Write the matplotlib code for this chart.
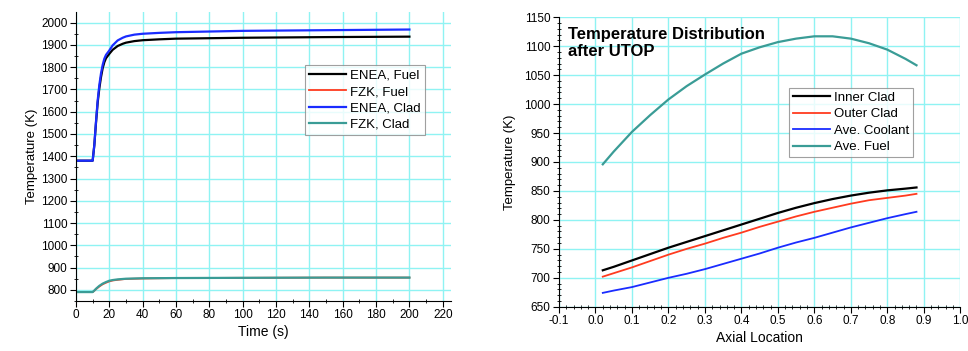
import matplotlib
matplotlib.use("Agg")
import matplotlib.pyplot as plt
from matplotlib.ticker import MultipleLocator

plt.rcParams['font.family'] = ['Liberation Sans', 'DejaVu Sans']

# ---- Left chart data ----
time_s = [0, 10, 11, 12, 13, 14, 15, 16, 17, 18, 19, 20, 22, 25, 28, 30, 35, 40, 50, 60, 80, 100, 150, 200]
enea_fuel = [1380, 1380, 1450, 1550, 1640, 1705, 1755, 1795, 1822, 1840, 1850, 1860, 1878, 1895, 1905, 1910, 1917, 1921, 1925, 1928, 1930, 1932, 1935, 1937]
enea_clad = [1380, 1380, 1450, 1555, 1650, 1720, 1772, 1810, 1838, 1855, 1865, 1875, 1898, 1920, 1932, 1938, 1946, 1950, 1954, 1957, 1960, 1963, 1966, 1969]
fzk_time = [0, 10, 11, 12, 14, 16, 18, 20, 22, 25, 30, 40, 60, 100, 150, 200]
fzk_fuel = [790, 790, 796, 803, 815, 825, 832, 838, 842, 845, 849, 851, 853, 854, 855, 855]
fzk_clad = [790, 790, 797, 805, 818, 828, 835, 841, 844, 847, 850, 852, 853, 854, 855, 855]

# ---- Right chart data ----
axial = [0.02, 0.05, 0.1, 0.15, 0.2, 0.25, 0.3, 0.35, 0.4, 0.45, 0.5, 0.55, 0.6, 0.65, 0.7, 0.75, 0.8, 0.85, 0.88]
inner_clad = [713, 719, 730, 741, 752, 762, 772, 782, 792, 802, 812, 821, 829, 836, 842, 847, 851, 854, 856]
outer_clad = [702, 708, 718, 729, 740, 750, 759, 769, 778, 788, 797, 806, 814, 821, 828, 834, 838, 842, 845]
ave_coolant = [674, 678, 684, 692, 700, 707, 715, 724, 733, 742, 752, 761, 769, 778, 787, 795, 803, 810, 814]
ave_fuel = [896, 918, 952, 981, 1008, 1031, 1051, 1070, 1087, 1098, 1107, 1113, 1117, 1117, 1113, 1105, 1094, 1078, 1067]

grid_color = '#8ff3f3'

fig = plt.figure(figsize=(9.68, 3.51), dpi=100)
ax1 = fig.add_axes([0.0785, 0.1425, 0.3875, 0.8235])
ax2 = fig.add_axes([0.5775, 0.126, 0.4145, 0.825])

def style(ax):
    ax.spines['top'].set_visible(False)
    ax.spines['right'].set_visible(False)
    ax.grid(True, which='major', color=grid_color, linewidth=1.0)
    ax.set_axisbelow(True)
    ax.tick_params(which='major', direction='out', length=4, width=0.8, labelsize=8.5, pad=2)
    ax.tick_params(which='minor', direction='inout', length=3, width=0.6)

# Left
ax1.plot(time_s, enea_fuel, color='black', lw=1.6, label='ENEA, Fuel')
ax1.plot(fzk_time, fzk_fuel, color='#ff3b1f', lw=1.3, label='FZK, Fuel')
ax1.plot(time_s, enea_clad, color='#1a2cff', lw=1.6, label='ENEA, Clad')
ax1.plot(fzk_time, fzk_clad, color='#3a9c96', lw=1.6, label='FZK, Clad')
ax1.set_xlim(0, 225)
ax1.set_ylim(750, 2048)
ax1.xaxis.set_major_locator(MultipleLocator(20))
ax1.xaxis.set_minor_locator(MultipleLocator(10))
ax1.yaxis.set_major_locator(MultipleLocator(100))
ax1.yaxis.set_minor_locator(MultipleLocator(50))
ax1.set_xlabel('Time (s)', fontsize=10, labelpad=3)
ax1.set_ylabel('Temperature (K)', fontsize=9.5, labelpad=2)
style(ax1)
leg1 = ax1.legend(loc='upper right', bbox_to_anchor=(0.93, 0.815), fontsize=9.5,
                  frameon=True, fancybox=False, edgecolor='#888888', handlelength=2.8,
                  handletextpad=0.3, borderpad=0.3, labelspacing=0.32, borderaxespad=0)
leg1.get_frame().set_linewidth(0.8)

# Right
ax2.plot(axial, inner_clad, color='black', lw=1.6, label='Inner Clad')
ax2.plot(axial, outer_clad, color='#ff3b1f', lw=1.3, label='Outer Clad')
ax2.plot(axial, ave_coolant, color='#1a2cff', lw=1.3, label='Ave. Coolant')
ax2.plot(axial, ave_fuel, color='#3a9c96', lw=1.6, label='Ave. Fuel')
ax2.set_xlim(-0.1, 1.0)
ax2.set_ylim(650, 1150)
ax2.xaxis.set_minor_locator(MultipleLocator(0.02))
ax2.yaxis.set_major_locator(MultipleLocator(50))
ax2.yaxis.set_minor_locator(MultipleLocator(10))
ax2.set_xticks([-0.1, 0.0, 0.1, 0.2, 0.3, 0.4, 0.5, 0.6, 0.7, 0.8, 0.9, 1.0])
ax2.set_xticklabels(['-0.1', '0.0', '0.1', '0.2', '0.3', '0.4', '0.5', '0.6', '0.7', '0.8', '0.9', '1.0'])
ax2.set_xlabel('Axial Location', fontsize=10, labelpad=3)
ax2.set_ylabel('Temperature (K)', fontsize=9.5, labelpad=6)
style(ax2)
ax2.text(0.022, 0.965, 'Temperature Distribution\nafter UTOP', transform=ax2.transAxes,
         fontsize=12, fontweight='bold', va='top', ha='left', linespacing=1.1)
leg2 = ax2.legend(loc='upper right', bbox_to_anchor=(0.883, 0.757), fontsize=9.5,
                  frameon=True, fancybox=False, edgecolor='#888888', handlelength=2.8,
                  handletextpad=0.3, borderpad=0.3, labelspacing=0.32, borderaxespad=0)
leg2.get_frame().set_linewidth(0.8)

fig.savefig('out.png', dpi=100)
